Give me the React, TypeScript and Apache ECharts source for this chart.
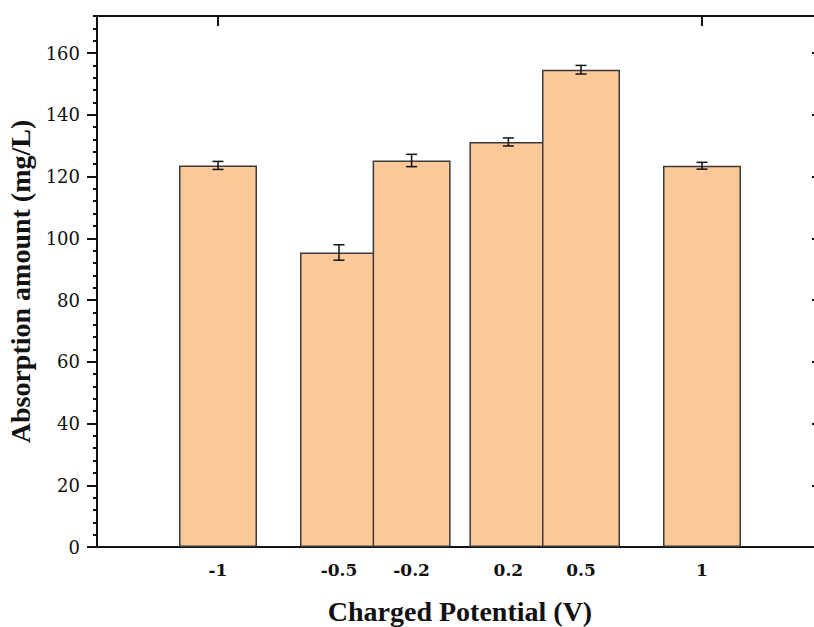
import React, { useEffect, useRef } from "react";
import * as echarts from "echarts";

const potentials = [-1, -0.5, -0.2, 0.2, 0.5, 1];
const absorption = [123.6, 95.4, 125.2, 131.2, 154.6, 123.5];
const errors = [1.3, 2.5, 2.0, 1.3, 1.4, 1.1];
const yMajorTicks = [0, 20, 40, 60, 80, 100, 120, 140, 160];
const topTicks = [-1, 1];
const Y_MAX = 172;

const BLACK = "#111";
const TICK_FONT = "'DejaVu Serif', serif";
const NAME_FONT = "'Liberation Serif', 'Times New Roman', serif";

export default function App() {
  const ref = useRef<HTMLDivElement>(null);
  useEffect(() => {
    if (!ref.current) return;
    const chart = echarts.init(ref.current, null, { renderer: "svg" });
    const barData = potentials.map((p, i) => [p, absorption[i]]);
    const errData = potentials.map((p, i) => [p, absorption[i], errors[i]]);
    const lineStyle = { color: BLACK, width: 2 };
    chart.setOption({
      animation: false,
      backgroundColor: "#fff",
      grid: {
        left: 97,
        top: 16,
        width: 726,
        height: 531,
        containLabel: false,
        outerBoundsMode: "none",
      },
      xAxis: [
        {
          type: "value",
          position: "bottom",
          min: -1.5,
          max: 1.5,
          splitLine: { show: false },
          axisLine: { show: true, onZero: false, lineStyle },
          axisTick: { show: false },
          axisLabel: {
            customValues: potentials,
            margin: 14,
            fontFamily: TICK_FONT,
            fontWeight: "bold",
            fontSize: 17,
            color: BLACK,
          },
          name: "Charged Potential (V)",
          nameLocation: "middle",
          nameGap: 50,
          nameTextStyle: {
            fontFamily: NAME_FONT,
            fontWeight: "bold",
            fontSize: 28,
            color: BLACK,
          },
        },
        {
          // top frame line
          type: "value",
          position: "top",
          min: -1.5,
          max: 1.5,
          splitLine: { show: false },
          axisLine: { show: true, onZero: false, lineStyle },
          axisTick: { show: false },
          axisLabel: { show: false },
        },
        {
          // top frame ticks: axis moved 10px inward, ticks pointing up to the frame line
          type: "value",
          position: "top",
          offset: -10,
          min: -1.5,
          max: 1.5,
          splitLine: { show: false },
          axisLine: { show: false, onZero: false },
          axisTick: { show: true, inside: false, length: 10, customValues: topTicks, lineStyle },
          axisLabel: { show: false },
        },
      ],
      yAxis: [
        {
          type: "value",
          position: "left",
          min: 0,
          max: Y_MAX,
          interval: 4,
          splitLine: { show: false },
          axisLine: { show: true, onZero: false, lineStyle },
          axisTick: { show: true, length: 4, lineStyle },
          axisLabel: { show: false },
        },
        {
          type: "value",
          position: "left",
          min: 0,
          max: Y_MAX,
          splitLine: { show: false },
          axisLine: { show: false, onZero: false },
          axisTick: { show: true, length: 10, customValues: yMajorTicks, lineStyle },
          axisLabel: {
            customValues: yMajorTicks,
            margin: 17,
            fontFamily: TICK_FONT,
            fontSize: 18,
            color: BLACK,
          },
          name: "Absorption amount (mg/L)",
          nameLocation: "middle",
          nameGap: 50,
          nameTextStyle: {
            fontFamily: NAME_FONT,
            fontWeight: "bold",
            fontSize: 28,
            color: BLACK,
          },
        },
        {
          type: "value",
          position: "right",
          min: 0,
          max: Y_MAX,
          offset: -1,
          splitLine: { show: false },
          axisLine: { show: true, onZero: false, lineStyle },
          axisTick: { show: true, inside: true, length: 10, customValues: yMajorTicks, lineStyle },
          axisLabel: { show: false },
        },
      ],
      series: [
        {
          type: "bar",
          xAxisIndex: 0,
          yAxisIndex: 0,
          data: barData,
          barWidth: 78,
          itemStyle: { color: "#FBC899", borderColor: "#3a3a3a", borderWidth: 1.5 },
        },
        {
          type: "custom",
          xAxisIndex: 0,
          yAxisIndex: 0,
          data: errData,
          z: 5,
          renderItem: (_params: any, api: any) => {
            const x = api.value(0);
            const y = api.value(1);
            const e = api.value(2);
            const top = api.coord([x, y + e]);
            const bot = api.coord([x, y - e]);
            const hw = 5.5;
            const style = { stroke: BLACK, lineWidth: 1.5 };
            return {
              type: "group",
              children: [
                { type: "line", shape: { x1: top[0], y1: top[1], x2: bot[0], y2: bot[1] }, style },
                { type: "line", shape: { x1: top[0] - hw, y1: top[1], x2: top[0] + hw, y2: top[1] }, style },
                { type: "line", shape: { x1: bot[0] - hw, y1: bot[1], x2: bot[0] + hw, y2: bot[1] }, style },
              ],
            };
          },
        },
      ],
    });
    return () => chart.dispose();
  }, []);
  return (
    <div
      ref={ref}
      style={{ position: "fixed", left: 0, top: 0, width: 814, height: 627, background: "#fff" }}
    />
  );
}
